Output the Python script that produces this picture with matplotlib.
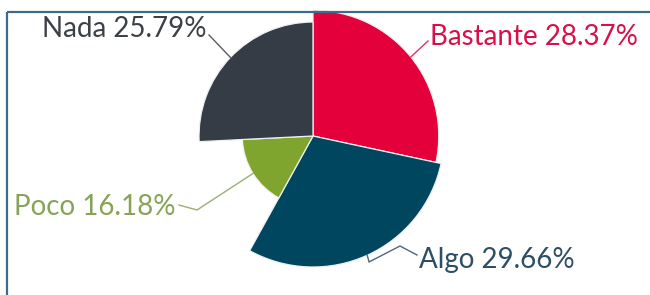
import numpy as np
import matplotlib.pyplot as plt
from matplotlib.patches import Wedge, Rectangle

# data
labels = ["Bastante", "Algo", "Poco", "Nada"]
values = [28.37, 29.66, 16.18, 25.79]
z_values = [96, 100, 54, 87]          # relative slice depth (variable pie)
colors = ["#E4003B", "#00465F", "#7FA52E", "#363C45"]
label_colors = ["#D8104A", "#2E4E63", "#86A356", "#3C4148"]

# layout (pixels, figure is 650x295)
center = (313, 136)
max_radius = 131
label_pos = [(430, 45, "left"), (419, 268, "left"), (176, 215, "right"), (207, 37, "right")]
connector_mid = [[], [(369, 262), (400, 246)], [(197, 210)], []]
connector_end = [(428, 41), (417, 255), (179, 205), (209, 35)]

plt.rcParams['font.family'] = ['Lato', 'DejaVu Sans']

fig = plt.figure(figsize=(6.5, 2.95), dpi=100)
ax = fig.add_axes([0, 0, 1, 1])
ax.set_xlim(0, 650)
ax.set_ylim(295, 0)
ax.axis('off')

total = sum(values)
start = 0.0
for i, val in enumerate(values):
    sweep = 360 * val / total
    r = max_radius * z_values[i] / max(z_values)
    # clockwise from 12 o'clock, y axis inverted -> matplotlib angle = start - 90
    w = Wedge(center, r, start - 90, start + sweep - 90,
              facecolor=colors[i], edgecolor="#eef0f0", linewidth=0.9)
    ax.add_patch(w)

    mid = np.radians(start + sweep / 2)
    ex = center[0] + r * np.sin(mid)
    ey = center[1] - r * np.cos(mid)
    pts = [(ex, ey)] + connector_mid[i] + [connector_end[i]]
    xs, ys = zip(*pts)
    ax.plot(xs, ys, color=label_colors[i], lw=1.0, alpha=0.85)

    lx, ly, ha = label_pos[i]
    ax.text(lx, ly, f"{labels[i]} {val:.2f}%", color=label_colors[i],
            fontsize=20, ha=ha, va='baseline')
    start += sweep

# outer frame
ax.add_patch(Rectangle((6.5, 11.5), 700, 400, fill=False,
                       edgecolor="#3F6A88", linewidth=1.6, zorder=5))

fig.savefig("out.png", dpi=100)
